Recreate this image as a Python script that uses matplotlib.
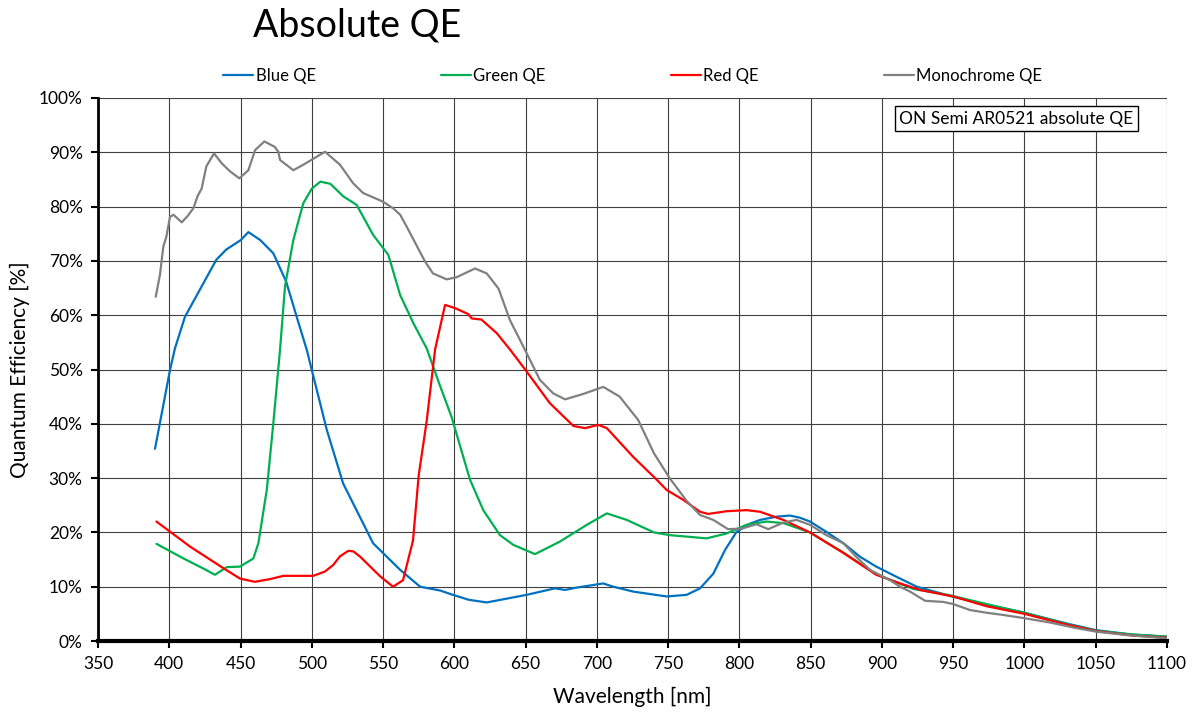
import matplotlib
matplotlib.use('Agg')
import matplotlib.pyplot as plt

plt.rcParams['font.family'] = ['Lato', 'DejaVu Sans']

# wavelength [nm], QE [%]
blue_wl = [390, 400.5, 404, 411, 420, 433, 440, 450, 455.5, 464, 473, 482, 489.4, 496.5, 500,
           510.5, 522, 543, 562, 576, 590, 599, 610, 622.7, 650.8, 670.6, 677.7, 685, 704.5,
           711.5, 725.5, 749, 763, 772.4, 781.7, 790, 798, 807.4, 814.5, 826, 835.5, 842.5,
           849.5, 861, 873, 884.7, 896, 910.4, 924.4, 947.8, 975, 1000, 1030, 1050, 1075, 1100]
blue_qe = [35.4, 49.9, 53.9, 59.7, 64.0, 70.2, 72.1, 73.8, 75.3, 73.8, 71.4, 66.2, 59.7, 53.6, 49.9,
           38.9, 29.0, 18.0, 13.1, 10.0, 9.3, 8.5, 7.6, 7.1, 8.5, 9.7, 9.4, 9.8, 10.6,
           10.0, 9.1, 8.2, 8.5, 9.7, 12.4, 16.8, 20.1, 21.6, 22.3, 22.9, 23.1, 22.7,
           22.0, 20.1, 18.0, 15.5, 13.7, 11.8, 10.0, 8.3, 6.6, 5.2, 3.2, 2.0, 1.2, 0.8]

green_wl = [391, 410, 425, 432, 440.3, 449.6, 459, 462.5, 468.4, 473, 477.7, 481.2, 487, 494, 500,
            506, 513, 522, 531.5, 543, 553.7, 562, 571.3, 580.6, 589.4, 598, 611, 620.3, 632,
            641.4, 656.6, 674, 693, 707, 721, 740, 751, 777, 791, 805, 819, 831, 849.5,
            873, 896, 922, 948, 975, 1000, 1030, 1050, 1075, 1100]
green_qe = [17.9, 15.2, 13.2, 12.2, 13.6, 13.7, 15.2, 18.0, 27.8, 40.1, 53.6, 65.3, 73.8, 80.6, 83.3,
            84.6, 84.2, 81.9, 80.3, 74.8, 71.1, 63.7, 58.5, 53.9, 47.4, 41.3, 29.7, 24.1, 19.5,
            17.7, 16.0, 18.3, 21.4, 23.5, 22.3, 20.0, 19.5, 18.9, 19.8, 21.4, 22.0, 21.7, 20.0,
            16.3, 12.3, 9.6, 8.4, 6.7, 5.2, 3.1, 1.9, 1.2, 0.8]

red_wl = [391, 414.5, 438, 449.6, 460, 470.7, 480, 501, 509.3, 515, 519.8, 525.6, 529.2, 534,
          548, 557, 564, 571, 575, 580.6, 586.5, 593.5, 600.5, 609.8, 612.2, 619, 629.7, 639,
          650.8, 667, 683.5, 691.7, 701, 707, 725.5, 742, 749, 760.6, 772.4, 778, 791, 805,
          814.5, 830.8, 849.5, 873, 896, 912.7, 926.7, 950, 973.5, 1000, 1030, 1050.7, 1076, 1100]
red_qe = [22.0, 17.4, 13.4, 11.5, 10.9, 11.4, 12.0, 12.0, 12.8, 14.0, 15.6, 16.6, 16.5, 15.5,
          11.9, 10.0, 11.2, 18.5, 30.5, 40.5, 53.7, 61.9, 61.3, 60.2, 59.4, 59.2, 56.7, 53.7,
          49.6, 43.8, 39.6, 39.2, 39.8, 39.2, 33.9, 29.7, 27.8, 26.0, 23.8, 23.4, 23.9, 24.1,
          23.8, 22.3, 20.0, 16.2, 12.2, 10.6, 9.4, 8.2, 6.4, 5.0, 3.0, 1.8, 1.0, 0.6]

mono_wl = [390.5, 393.5, 395.8, 398, 400.5, 403, 408.7, 413, 416.9, 420, 422.7, 426, 431.4, 436.7,
           442.6, 449.2, 455.5, 460.2, 466.7, 474, 476.5, 477.7, 487, 494, 509.3, 519.8, 529,
           536, 550, 557, 562, 566.6, 579.4, 585, 594.6, 601.6, 614.5, 622.7, 631, 639, 649.6,
           660, 669.4, 677.7, 690.5, 704.5, 716, 729, 740, 751.3, 763, 772.4, 781.7, 792, 801.6,
           812, 820.3, 830.8, 840, 849.5, 861, 873, 882, 891.6, 905.7, 912.7, 919.7, 930.3, 943,
           950, 961.8, 973.5, 985, 1000, 1018, 1034, 1050.7, 1072, 1100]
mono_qe = [63.4, 67.5, 72.6, 74.5, 78.1, 78.5, 77.1, 78.3, 79.7, 82.0, 83.3, 87.4, 89.8, 88.0,
           86.5, 85.2, 86.7, 90.4, 92.0, 91.0, 90.1, 88.6, 86.7, 87.7, 90.1, 87.7, 84.3,
           82.5, 80.9, 79.7, 78.5, 76.3, 69.9, 67.7, 66.6, 67.0, 68.6, 67.7, 64.9, 59.1, 53.6,
           48.1, 45.6, 44.5, 45.5, 46.8, 45.0, 40.7, 34.6, 29.9, 25.8, 23.2, 22.3, 20.6, 20.7,
           21.5, 20.6, 21.8, 22.3, 21.4, 19.5, 18.0, 15.5, 13.1, 11.2, 10.0, 9.1, 7.4, 7.2,
           6.8, 5.7, 5.2, 4.8, 4.2, 3.4, 2.5, 1.7, 1.1, 0.5]

x_ticks = list(range(350, 1101, 50))
y_ticks = list(range(0, 101, 10))

fig = plt.figure(figsize=(11.97, 7.13), dpi=100)
ax = fig.add_axes([98 / 1197, 72 / 713, 1069 / 1197, 543 / 713])

lw = 1.6
style = dict(lw=lw, solid_joinstyle='round', solid_capstyle='round')
ax.plot(blue_wl, blue_qe, color='#0070C0', label='Blue QE', **style)
ax.plot(green_wl, green_qe, color='#00B050', label='Green QE', **style)
ax.plot(red_wl, red_qe, color='#FF0000', label='Red QE', **style)
ax.plot(mono_wl, mono_qe, color='#808080', label='Monochrome QE', **style)

ax.set_xlim(350, 1100)
ax.set_ylim(0, 100)
ax.set_xticks(x_ticks)
ax.set_yticks(y_ticks)
ax.set_yticklabels([f'{v}%' for v in y_ticks])
ax.grid(True, color='#404040', lw=0.8)
ax.set_axisbelow(True)

for s in ['top', 'right']:
    ax.spines[s].set_visible(False)
ax.spines['left'].set_linewidth(2)
ax.spines['bottom'].set_linewidth(3)
ax.tick_params(direction='out', length=5, width=1.5, labelsize=12.5, pad=6)

fig.text(632 / 1197, 1 - 697 / 713, 'Wavelength [nm]', ha='center', va='center', fontsize=15)
fig.text(20 / 1197, 1 - 370 / 713, 'Quantum Efficiency [%]', ha='center', va='center',
         rotation=90, fontsize=15)
fig.text(357 / 1197, 1 - 25 / 713, 'Absolute QE', ha='center', va='center', fontsize=27)

fig.legend(loc='center left', bbox_to_anchor=(223 / 1197, 1 - 76 / 713), ncol=4, frameon=False,
           fontsize=12, borderpad=0, borderaxespad=0, handlelength=1.8, handletextpad=0.15,
           columnspacing=7.5)

ax.text(0.859, 0.962, 'ON Semi AR0521 absolute QE', transform=ax.transAxes, ha='center',
        va='center', fontsize=12.5,
        bbox=dict(boxstyle='square,pad=0.25', fc='white', ec='black', lw=1))

fig.savefig('out.png', dpi=100)
